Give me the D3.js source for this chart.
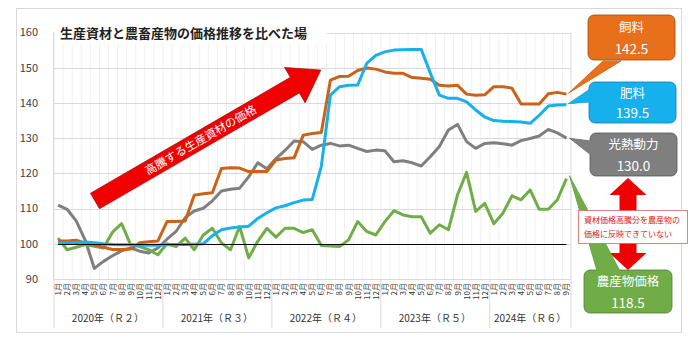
<!DOCTYPE html>
<html>
<head>
<meta charset="utf-8">
<script src="https://cdn.jsdelivr.net/npm/d3@7"></script>
<style>
body { margin: 0; background: #fff; }
text { font-family: "Noto Sans CJK JP", "Noto Sans", sans-serif; }
</style>
</head>
<body>
<div id="main"></div>
<script>
// 年の区切りと各年の月数
const years = ["2020年（Ｒ２）", "2021年（Ｒ３）", "2022年（Ｒ４）", "2023年（Ｒ５）", "2024年（Ｒ６）"];
const monthsPerYear = [12, 12, 12, 12, 9];
const yTicks = [90, 100, 110, 120, 130, 140, 150, 160];

// 指数（2020年1月 = 100 近辺）
const feed = [100.8,100.8,101.0,100.2,99.7,99.0,98.4,98.4,98.5,100.3,100.6,100.8,
  106.3,106.3,106.5,113.8,114.2,114.5,121.4,121.6,121.5,120.5,120.5,120.5,
  123.8,124.2,124.4,130.8,131.3,131.6,146.5,147.5,147.6,149.2,149.9,149.6,
  148.8,148.4,148.4,147.2,147.0,146.7,145.0,144.8,145.0,142.5,142.2,142.3,
  144.6,144.6,144.2,139.7,139.7,139.7,142.6,143.0,142.5];
const fert = [100.2,100.3,100.4,100.5,100.3,100.0,99.8,99.7,99.7,99.6,99.6,99.6,
  99.7,99.8,99.8,99.9,100.0,102.3,104.0,104.5,104.8,105.0,107.2,108.8,
  110.2,110.8,111.7,112.4,112.6,122.0,142.2,144.6,145.0,145.1,151.2,153.5,
  154.5,155.0,155.1,155.2,155.2,148.5,142.2,141.3,141.3,140.3,138.0,136.0,
  135.0,134.8,134.7,134.6,134.2,136.5,139.1,139.4,139.5];
const energy = [111.0,109.8,106.5,101.0,93.0,95.0,96.6,98.0,98.8,97.9,97.4,98.8,
  101.3,103.5,107.4,109.3,110.1,112.2,115.0,115.5,115.8,119.0,123.0,121.3,
  124.2,126.5,129.2,129.0,126.8,128.0,128.5,127.8,128.0,127.1,126.2,126.6,
  126.4,123.3,123.6,123.0,122.1,124.7,127.6,132.3,133.9,129.0,127.1,128.5,
  128.7,128.4,128.0,129.3,129.9,130.6,132.5,131.5,130.0];
const produce = [101.6,98.3,99.0,99.8,99.3,98.8,103.3,105.7,99.7,99.2,98.3,96.9,
  100.0,99.2,101.6,98.3,102.5,104.4,100.2,98.3,104.9,96.0,100.7,104.4,
  101.9,104.4,104.4,103.2,104.0,99.5,99.4,99.2,101.1,106.3,103.5,102.5,
  106.3,109.4,108.2,107.7,107.7,103.0,105.4,104.0,113.9,120.3,109.2,111.5,
  105.7,108.7,113.6,112.5,115.3,109.8,109.8,112.5,118.5];

const ctx = { width: 700, height: 354 };

// カテゴリ（年-月）
let months = [];
years.forEach((y, yi) => {
  for (let m = 1; m <= monthsPerYear[yi]; m++) months.push({ key: yi + "-" + m, year: yi, m: m });
});

const svg = d3.select("#main").append("svg")
  .attr("width", ctx.width).attr("height", ctx.height);

// 外枠
svg.append("rect").attr("x", 16.5).attr("y", 8.5).attr("width", 665).attr("height", 324)
  .attr("fill", "#fff").attr("stroke", "#d9d9d9");

const x = d3.scaleBand().domain(months.map(d => d.key)).range([53.5, 571]);
const y = d3.scaleLinear().domain([90, 160]).range([279, 32.5]);
const cx = i => x(months[i].key) + x.bandwidth() / 2;

// 縦の補助線（月ごと）
svg.append("g").selectAll("line").data(months).enter().append("line")
  .attr("x1", d => x(d.key) + 0.5).attr("x2", d => x(d.key) + 0.5)
  .attr("y1", y(160)).attr("y2", y(90))
  .attr("stroke", "#f0f0f0");

// 横の目盛線
svg.append("g").selectAll("line").data(yTicks).enter().append("line")
  .attr("x1", 53.5).attr("x2", 571)
  .attr("y1", d => Math.round(y(d)) + 0.5).attr("y2", d => Math.round(y(d)) + 0.5)
  .attr("stroke", "#d9d9d9");

// 左右の枠線
[53.5, 571].forEach(v => svg.append("line").attr("x1", v).attr("x2", v)
  .attr("y1", y(160)).attr("y2", y(90)).attr("stroke", "#d9d9d9"));

// y軸ラベル
svg.append("g").selectAll("text").data(yTicks).enter().append("text")
  .attr("x", 38).attr("y", d => y(d)).attr("dy", "0.35em")
  .attr("text-anchor", "end").attr("font-size", 11).attr("fill", "#404040")
  .text(d => d);

// 月ラベル（縦書き風に回転）
svg.append("g").selectAll("text").data(months).enter().append("text")
  .attr("transform", (d, i) => `translate(${cx(i) + 3},283) rotate(-90)`)
  .attr("text-anchor", "end").attr("font-size", 8).attr("fill", "#333")
  .text(d => d.m + "月");

// 年の区切りと年ラベル
let start = 0;
years.forEach((label, yi) => {
  const x0 = x(months[start].key);
  const last = start + monthsPerYear[yi] - 1;
  const x1 = x(months[last].key) + x.bandwidth();
  svg.append("line").attr("x1", x0 + 0.5).attr("x2", x0 + 0.5).attr("y1", 279).attr("y2", 328)
    .attr("stroke", "#d9d9d9");
  svg.append("text").attr("x", (x0 + x1) / 2).attr("y", 322)
    .attr("text-anchor", "middle").attr("font-size", 10).attr("fill", "#333")
    .text(label);
  start = last + 1;
});
svg.append("line").attr("x1", 571).attr("x2", 571).attr("y1", 279).attr("y2", 328).attr("stroke", "#d9d9d9");

// タイトル
svg.append("rect").attr("x", 55).attr("y", 22).attr("width", 272).attr("height", 22).attr("fill", "#fff");
svg.append("text").attr("x", 60).attr("y", 37.5)
  .attr("font-size", 13).attr("font-weight", "bold").attr("fill", "#222")
  .text("生産資材と農畜産物の価格推移を比べた場");

// 系列
const line = d3.line().x((d, i) => cx(i)).y(d => y(d));
const series = [
  { name: "光熱動力", data: energy, color: "#7f7f7f" },
  { name: "農産物価格", data: produce, color: "#70ad47" },
  { name: "飼料", data: feed, color: "#c9631a" },
  { name: "肥料", data: fert, color: "#16b0ec" }
];
series.forEach(s => {
  svg.append("path").datum(s.data).attr("d", line)
    .attr("fill", "none").attr("stroke", s.color).attr("stroke-width", 3)
    .attr("stroke-linejoin", "round");
});

// 100 の基準線
svg.append("line").attr("x1", cx(0)).attr("x2", cx(months.length - 1))
  .attr("y1", Math.round(y(100)) + 0.5).attr("y2", Math.round(y(100)) + 0.5)
  .attr("stroke", "#000").attr("stroke-width", 1);

// 赤い大矢印
const arrow = svg.append("g").attr("transform", "translate(95,201) rotate(-30.1)");
arrow.append("path")
  .attr("d", "M0,-9 L231,-9 L231,-20.5 L261,0 L231,20.5 L231,9 L0,9 Z")
  .attr("fill", "#f00000").attr("stroke", "#a00000").attr("stroke-width", 0.6);
arrow.append("text").attr("x", 122).attr("y", 4.2)
  .attr("text-anchor", "middle").attr("font-size", 11.5).attr("fill", "#fff")
  .text("高騰する生産資材の価格");

// 吹き出し
const n = months.length - 1;
function callout(box, tipDx, tipDy, base, fill, stroke, label, value, lastV) {
  const tx = cx(n) + tipDx, ty = y(lastV) + tipDy;
  svg.append("path").attr("d", `M${tx},${ty} L${base[0][0]},${base[0][1]} L${base[1][0]},${base[1][1]} Z`)
    .attr("fill", fill).attr("stroke", stroke).attr("stroke-width", 0.6);
  svg.append("rect").attr("x", box[0]).attr("y", box[1]).attr("width", box[2]).attr("height", box[3])
    .attr("rx", 6).attr("fill", fill).attr("stroke", stroke).attr("stroke-width", 0.8);
  // 吹き出しの付け根を隠す
  svg.append("path").attr("d", `M${tx},${ty} L${base[0][0]},${base[0][1]} L${base[1][0]},${base[1][1]} Z`)
    .attr("fill", fill);
  const mx = box[0] + box[2] / 2;
  svg.append("text").attr("x", mx).attr("y", box[1] + box[3] * 0.27).attr("dy", "0.38em")
    .attr("text-anchor", "middle").attr("font-size", 12.5).attr("fill", "#fff").text(label);
  svg.append("text").attr("x", mx).attr("y", box[1] + box[3] * 0.76).attr("dy", "0.36em")
    .attr("text-anchor", "middle").attr("font-size", 13.5).attr("fill", "#fff").text(value);
}

callout([588, 15, 87, 45], 2, -1, [[603, 61], [621, 61]], "#e8701a", "#a04a10", "飼料", "142.5", feed[n]);
callout([589, 82, 87, 41], 2, -1, [[590, 89], [590, 102]], "#16b0ec", "#0a7fb0", "肥料", "139.5", fert[n]);
callout([590, 133, 87, 43], 3, 0, [[591, 141], [591, 155]], "#7f7f7f", "#555", "光熱動力", "130.0", energy[n]);

// 上下の赤矢印
const ax = 628;
svg.append("path")
  .attr("d", `M${ax},178 L${ax + 18.5},195 L${ax + 8.5},195 L${ax + 8.5},253 L${ax + 18.5},253 L${ax},270 ` +
    `L${ax - 18.5},253 L${ax - 8.5},253 L${ax - 8.5},195 L${ax - 18.5},195 Z`)
  .attr("fill", "#f00000");

callout([584, 270, 88, 43], 3, -3, [[597, 271], [620, 271]], "#70ad47", "#4e7f30", "農産物価格", "118.5", produce[n]);

// 注記
svg.append("rect").attr("x", 578.5).attr("y", 210.5).attr("width", 109).attr("height", 33)
  .attr("fill", "#fff").attr("stroke", "#e06060").attr("stroke-width", 0.8);
svg.append("text").attr("x", 584).attr("y", 223).attr("font-size", 8).attr("fill", "#e02020")
  .text("資材価格高騰分を農産物の");
svg.append("text").attr("x", 584).attr("y", 236.5).attr("font-size", 8).attr("fill", "#e02020")
  .text("価格に反映できていない");
</script>
</body>
</html>
